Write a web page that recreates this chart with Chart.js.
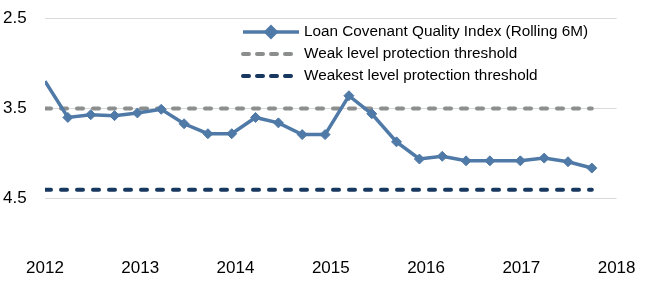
<!DOCTYPE html>
<html>
<head>
<meta charset="utf-8">
<script src="https://cdn.jsdelivr.net/npm/chart.js@4.4.1/dist/chart.umd.min.js"></script>
<style>
  html, body { margin: 0; padding: 0; background: #fff; }
  #wrap { width: 650px; height: 290px; position: relative; }
</style>
</head>
<body>
<div id="wrap"><canvas id="chart-lcqi"></canvas></div>
<script>
// quarterly readings, x in decimal years
const quarterDates = [
  2012.00, 2012.24, 2012.48, 2012.73, 2012.97, 2013.22, 2013.46, 2013.71,
  2013.96, 2014.21, 2014.45, 2014.70, 2014.94, 2015.19, 2015.43, 2015.69,
  2015.93, 2016.17, 2016.42, 2016.67, 2016.99, 2017.24, 2017.49, 2017.74,
];
const indexValues = [
  3.20, 3.60, 3.57, 3.58, 3.55, 3.51, 3.67, 3.78,
  3.78, 3.60, 3.66, 3.79, 3.79, 3.36, 3.56, 3.87,
  4.06, 4.03, 4.08, 4.08, 4.08, 4.05, 4.09, 4.16,
];
const weakLevel = 3.5;
const weakestLevel = 4.4;

const yearTicks = [2012, 2013, 2014, 2015, 2016, 2017, 2018];
const indexTicks = [2.5, 3.5, 4.5];

const seriesLabels = [
  'Loan Covenant Quality Index (Rolling 6M)',
  'Weak level protection threshold',
  'Weakest level protection threshold',
];

const FONT_FAMILY = "'Liberation Sans', Arial, sans-serif";

// legend sits inside the plot area, so draw it ourselves
const overlayLegend = {
  id: 'overlayLegend',
  afterDatasetsDraw(chart, args, opts) {
    const ctx = chart.ctx;
    ctx.save();
    ctx.font = opts.font;
    ctx.textBaseline = 'middle';
    ctx.textAlign = 'left';
    chart.data.datasets.forEach((ds, i) => {
      const y = opts.top + i * opts.rowHeight;
      ctx.strokeStyle = ds.borderColor;
      ctx.lineWidth = ds.borderWidth;
      ctx.lineCap = ds.borderCapStyle || 'butt';
      ctx.setLineDash(ds.legendDash || []);
      ctx.beginPath();
      ctx.moveTo(opts.left, y);
      ctx.lineTo(opts.left + opts.sampleWidth, y);
      ctx.stroke();
      ctx.setLineDash([]);
      if (ds.pointStyle === 'rectRot') {
        ctx.fillStyle = ds.pointBackgroundColor;
        ctx.strokeStyle = ds.pointBorderColor;
        Chart.helpers.drawPoint(ctx, { pointStyle: 'rectRot', radius: 5, rotation: 0, borderWidth: 1 },
          opts.left + opts.sampleWidth / 2, y);
      }
      ctx.fillStyle = '#000';
      ctx.fillText(ds.label, opts.left + opts.sampleWidth + opts.gap, y);
    });
    ctx.restore();
  },
};

const ctx = document.getElementById('chart-lcqi').getContext('2d');
new Chart(ctx, {
  type: 'line',
  data: {
    datasets: [
      {
        label: seriesLabels[0],
        data: quarterDates.map((x, i) => ({ x, y: indexValues[i] })),
        borderColor: '#4f79a6',
        borderWidth: 3.5,
        pointStyle: 'rectRot',
        pointRadius: c => (c.dataIndex === 0 ? 0 : 5),
        pointBackgroundColor: '#4f79a6',
        pointBorderColor: '#4f79a6',
        pointBorderWidth: 1,
        tension: 0,
      },
      {
        label: seriesLabels[1],
        data: quarterDates.map(x => ({ x, y: weakLevel })),
        borderColor: '#8c8e8e',
        borderWidth: 4,
        borderDash: [6, 10],
        legendDash: [6, 8],
        borderCapStyle: 'round',
        pointRadius: 0,
      },
      {
        label: seriesLabels[2],
        data: quarterDates.map(x => ({ x, y: weakestLevel })),
        borderColor: '#17375e',
        borderWidth: 4,
        borderDash: [6, 10],
        legendDash: [6, 8],
        borderCapStyle: 'round',
        pointRadius: 0,
      },
    ],
  },
  options: {
    responsive: true,
    maintainAspectRatio: false,
    animation: false,
    layout: { padding: { top: 18, right: 29, bottom: 11, left: 3 } },
    plugins: {
      legend: { display: false },
      tooltip: { enabled: false },
      overlayLegend: {
        left: 243,
        top: 32,
        rowHeight: 22,
        sampleWidth: 56,
        gap: 5,
        font: `15.3px ${FONT_FAMILY}`,
      },
    },
    scales: {
      x: {
        type: 'linear',
        min: 2012,
        max: 2018,
        border: { display: false },
        grid: { display: false, drawTicks: false },
        afterBuildTicks: scale => { scale.ticks = yearTicks.map(value => ({ value })); },
        afterFit: scale => { scale.height = 35; },
        ticks: {
          color: '#000',
          padding: 14.5,
          font: { family: FONT_FAMILY, size: 17 },
          callback: v => String(v),
          maxRotation: 0,
        },
      },
      y: {
        reverse: true,
        min: 2.5,
        max: 5.0,
        border: { display: false },
        grid: { color: '#d9d9d9', lineWidth: 1, drawTicks: false },
        afterBuildTicks: scale => { scale.ticks = indexTicks.map(value => ({ value })); },
        afterFit: scale => { scale.width = 42; },
        ticks: {
          color: '#000',
          padding: 0,
          crossAlign: 'far',
          font: { family: FONT_FAMILY, size: 17 },
          callback: v => v.toFixed(1),
        },
      },
    },
  },
  plugins: [overlayLegend],
});
</script>
</body>
</html>
